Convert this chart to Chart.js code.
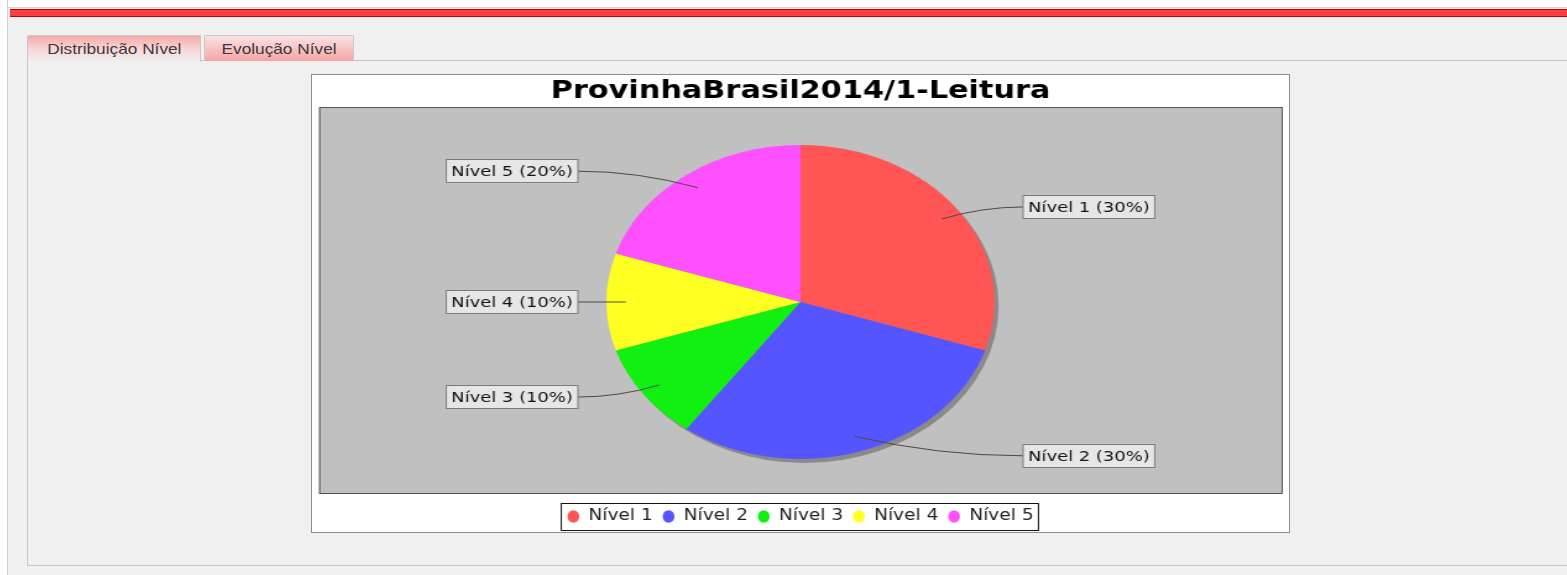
<!DOCTYPE html>
<html>
<head>
<meta charset="utf-8">
<script src="https://cdn.jsdelivr.net/npm/chart.js@4.4.1/dist/chart.umd.min.js"></script>
<style>
  html, body { margin: 0; padding: 0; }
  body { width: 1567px; height: 575px; background: #f0f0f0; position: relative; overflow: hidden; font-family: "Liberation Sans", Arial, sans-serif; }
  .top-strip { position: absolute; left: 0; top: 0; width: 1567px; height: 7px; background: #fff; border-bottom: 1px solid #d6d6d6; }
  .left-strip { position: absolute; left: 0; top: 0; width: 7px; height: 575px; background: #fff; border-right: 1px solid #cfcfcf; }
  .red-bar { position: absolute; left: 10px; top: 9px; width: 1557px; height: 6px; background: #ff4040; border-top: 1px solid #b80000; border-bottom: 1px solid #c00000; }
  .panel { position: absolute; left: 27px; top: 60px; width: 1560px; height: 504px; border: 1px solid #c6c6c6; background: #f0f0f0; }
  .tab { position: absolute; top: 35px; height: 25px; border: 1px solid #c8c8c8; border-bottom: none; font-size: 15px; color: #3a3a3a; text-align: center; line-height: 26px; border-radius: 2px 2px 0 0; }
  .tab span { display: inline-block; transform: scaleX(1.15); }
  .tab1 { left: 27px; width: 172px; height: 26px; z-index: 2; background: linear-gradient(#f6a9a9, #f8d9d9 55%, #f0f0f0); }
  .tab2 { left: 204px; width: 148px; background: linear-gradient(#fbe3e3, #f8baba 65%, #f5a3a3); }
  .frame { position: absolute; left: 311px; top: 74px; width: 977px; height: 457px; border: 1px solid #8c8c8c; background: #fff; }
  #pieChart { position: absolute; left: 312px; top: 75px; }
</style>
</head>
<body>
<div class="top-strip"></div>
<div class="left-strip"></div>
<div class="red-bar"></div>
<div class="panel"></div>
<div class="tab tab1"><span>Distribuição Nível</span></div>
<div class="tab tab2"><span>Evolução Nível</span></div>
<div class="frame"></div>
<!-- canvas interno 790px esticado para 977px (a imagem original é achatada na horizontal) -->
<canvas id="pieChart" width="790" height="459" style="width:977px;height:459px"></canvas>

<script>
// dados do gráfico
const chartTitle = 'ProvinhaBrasil2014/1-Leitura';
const categories = ['Nível 1', 'Nível 2', 'Nível 3', 'Nível 4', 'Nível 5'];
const percentages = [30, 30, 10, 10, 20];
const sliceColors = ['#ff5555', '#5555ff', '#11f011', '#ffff22', '#ff50ff'];

const FONT = '"DejaVu Sans", sans-serif';

// fundo cinza da área do plot (estilo JFreeChart)
const plotBackground = {
  id: 'plotBackground',
  beforeDraw(chart) {
    const { ctx, chartArea: a } = chart;
    const left = a.left + 5.7, right = a.right - 5, top = a.top + 4, bottom = a.bottom - 7;
    ctx.save();
    ctx.fillStyle = '#c0c0c0';
    ctx.fillRect(left, top, right - left, bottom - top);
    ctx.strokeStyle = '#555';
    ctx.lineWidth = 1;
    ctx.strokeRect(left + 0.5, top + 0.5, right - left - 1, bottom - top - 1);
    ctx.restore();
  }
};

// sombra da pizza
const pieShadow = {
  id: 'pieShadow',
  beforeDatasetsDraw(chart) {
    const arc = chart.getDatasetMeta(0).data[0];
    if (!arc) return;
    const ctx = chart.ctx;
    ctx.save();
    ctx.fillStyle = '#8a8a8a';
    ctx.beginPath();
    ctx.arc(arc.x + 3.2, arc.y + 4, arc.outerRadius, 0, Math.PI * 2);
    ctx.fill();
    ctx.restore();
  }
};

// rótulos com caixa e linha de ligação
const pieLabels = {
  id: 'pieLabels',
  afterDatasetsDraw(chart) {
    const ctx = chart.ctx;
    const meta = chart.getDatasetMeta(0);
    ctx.save();
    ctx.font = '14.5px ' + FONT;
    ctx.textBaseline = 'middle';
    ctx.textAlign = 'center';
    meta.data.forEach((arc, i) => {
      const mid = (arc.startAngle + arc.endAngle) / 2;
      const R = arc.outerRadius;
      const cos = Math.cos(mid), sin = Math.sin(mid);
      const ax = arc.x + 0.9 * R * cos;
      const ay = arc.y + 0.9 * R * sin;
      const ly = arc.y + 1.03 * R * sin;
      const right = cos >= 0;
      const ex = right ? arc.x + R + 23 : arc.x - R - 23;
      const text = categories[i] + ' (' + percentages[i] + '%)';
      const w = ctx.measureText(text).width + 8;
      const h = 24;
      const bx = right ? ex : ex - w;

      ctx.strokeStyle = '#4a4a4a';
      ctx.lineWidth = 1;
      ctx.beginPath();
      ctx.moveTo(ex, ly);
      ctx.quadraticCurveTo(ax + (ex - ax) * 0.5, ly, ax, ay);
      ctx.stroke();

      ctx.fillStyle = '#e6e6e6';
      ctx.fillRect(bx, ly - h / 2, w, h);
      ctx.strokeStyle = '#7a7a7a';
      ctx.strokeRect(bx, Math.round(ly - h / 2) + 0.5, w, h - 1);
      ctx.fillStyle = '#111';
      ctx.fillText(text, bx + w / 2, ly + 1);
    });
    ctx.restore();
  }
};

// moldura da legenda
const legendFrame = {
  id: 'legendFrame',
  afterDraw(chart) {
    const boxes = chart.legend && chart.legend.legendHitBoxes;
    if (!boxes || !boxes.length) return;
    const first = boxes[0], last = boxes[boxes.length - 1];
    const left = first.left - 5;
    const right = last.left + last.width + 4;
    const top = Math.round(first.top - 6.5) + 0.5;
    const bottom = Math.round(first.top + first.height + 6.5) - 0.5;
    const ctx = chart.ctx;
    ctx.save();
    ctx.strokeStyle = '#111';
    ctx.lineWidth = 1;
    ctx.strokeRect(left, top, right - left, bottom - top);
    ctx.restore();
  }
};

new Chart(document.getElementById('pieChart'), {
  type: 'pie',
  data: {
    labels: categories,
    datasets: [{
      data: percentages,
      backgroundColor: sliceColors,
      borderWidth: 0,
      radius: 157
    }]
  },
  options: {
    responsive: false,
    devicePixelRatio: 1,
    animation: false,
    layout: { padding: 0 },
    plugins: {
      title: {
        display: true,
        text: chartTitle,
        color: '#000',
        font: { family: FONT, size: 24.5, weight: 'bold', lineHeight: 0.9 },
        padding: { top: 5.5, bottom: 0.45 }
      },
      legend: {
        position: 'bottom',
        labels: {
          color: '#222',
          font: { family: FONT, size: 15 },
          usePointStyle: true,
          pointStyle: 'circle',
          pointStyleWidth: 9.5,
          boxHeight: 8.8,
          padding: 8
        }
      },
      tooltip: { enabled: false }
    }
  },
  plugins: [plotBackground, pieShadow, pieLabels, legendFrame]
});
</script>
</body>
</html>
